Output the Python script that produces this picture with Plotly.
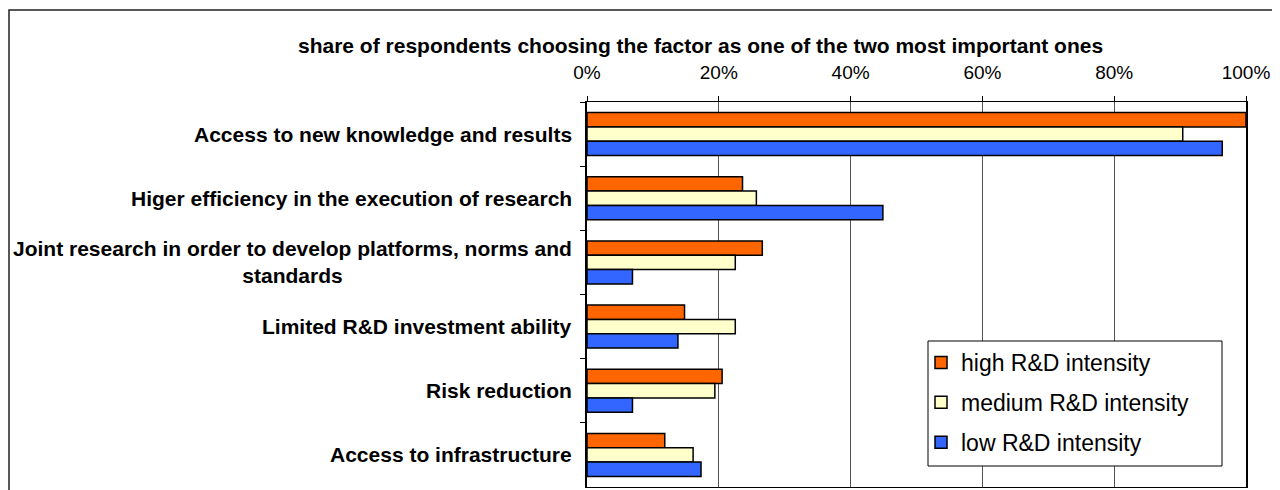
import plotly.graph_objects as go

categories = [
    "Access to new knowledge and results",
    "Higer efficiency in the execution of research",
    "Joint research in order to develop platforms, norms and<br>standards",
    "Limited R&D investment ability",
    "Risk reduction",
    "Access to infrastructure",
]
high = [100.0, 23.6, 26.6, 14.8, 20.5, 11.8]
medium = [90.4, 25.7, 22.5, 22.5, 19.4, 16.1]
low = [96.4, 44.9, 6.9, 13.8, 6.9, 17.3]
series_names = ["high R&D intensity", "medium R&D intensity", "low R&D intensity"]
series_colors = ["#FF6600", "#FFFFCC", "#3366FF"]
x_title = "share of respondents choosing the factor as one of the two most important ones"

# page body has an 8px margin; work in screen pixels and convert
OFF = 8
W, H = 1280 - OFF, 490 - OFF
L, R, T, B = 587, 1246, 102, 487  # screen pixels of plot area
pw, ph = R - L, B - T


def px(xs):
    return (xs - L) / pw


def py(ys):
    return (B - ys) / ph


FONT = "Liberation Sans, Arial, sans-serif"

fig = go.Figure()
for name, vals, col in zip(series_names, [high, medium, low], series_colors):
    fig.add_trace(go.Bar(
        y=categories, x=vals, name=name, orientation="h",
        marker=dict(color=col, line=dict(color="black", width=1.5)),
        legendgroup=name,
    ))

annotations = []
for c in categories:
    annotations.append(dict(
        xref="paper", yref="y", x=0, y=c, xanchor="right", yanchor="middle",
        xshift=-13, align="center", showarrow=False, text=c,
        font=dict(family=FONT, size=21, color="black", weight="bold"),
    ))
annotations.append(dict(
    xref="paper", yref="paper", x=px(700), y=py(45),
    xanchor="center", yanchor="middle", showarrow=False, text=x_title,
    font=dict(family=FONT, size=21, color="black", weight="bold"),
))

fig.update_layout(
    width=W, height=H,
    margin=dict(l=L - OFF, r=W - (R - OFF), t=T - OFF, b=H - (B - OFF), pad=0),
    paper_bgcolor="white", plot_bgcolor="white",
    barmode="group", bargap=0.33, bargroupgap=0,
    showlegend=True,
    legend=dict(
        x=px(921), y=py(341), xanchor="left", yanchor="top",
        borderwidth=0, bgcolor="rgba(0,0,0,0)",
        font=dict(family=FONT, size=23, color="black"),
        tracegroupgap=7, traceorder="grouped",
    ),
    xaxis=dict(
        side="top", range=[0, 100], dtick=20, ticksuffix="%",
        tickfont=dict(family=FONT, size=19, color="black"),
        ticks="outside", ticklen=5, tickcolor="black",
        ticklabelstandoff=9,
        showgrid=True, gridcolor="#555555", gridwidth=1,
        showline=True, linecolor="black", linewidth=1, mirror=True,
        zeroline=False, fixedrange=True,
    ),
    yaxis=dict(
        type="category", autorange="reversed",
        showticklabels=False, tickson="boundaries",
        ticks="outside", ticklen=5, tickcolor="black",
        showgrid=False,
        showline=True, linecolor="black", linewidth=1.5, mirror=True,
        fixedrange=True,
    ),
    annotations=annotations,
    shapes=[
        dict(
            type="rect", xref="paper", yref="paper",
            x0=px(9), x1=px(1274),
            y0=py(530), y1=py(10),
            line=dict(color="#222222", width=1.5), fillcolor="rgba(0,0,0,0)", layer="below",
        ),
        dict(
            type="rect", xref="paper", yref="paper",
            x0=px(928), x1=px(1222),
            y0=py(466), y1=py(341),
            line=dict(color="black", width=1), fillcolor="white", layer="above",
        ),
    ],
)

fig.write_html("out.html")
